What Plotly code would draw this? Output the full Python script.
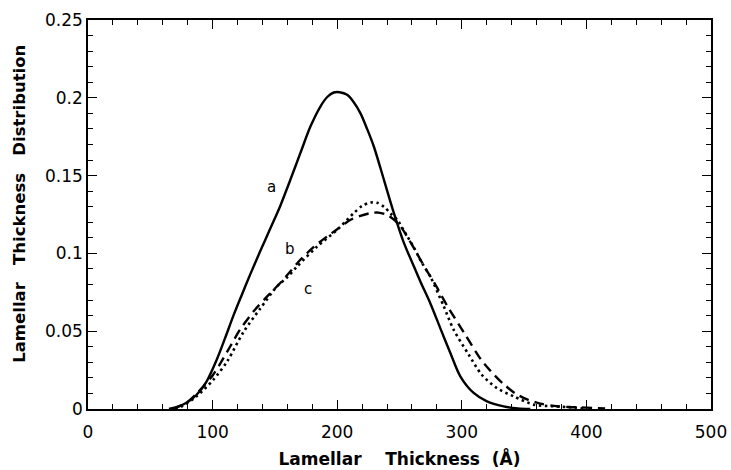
import plotly.graph_objects as go

# ---- data ----
a_x = [65, 72, 79, 87, 95, 103.3, 110, 116.7, 123, 130.2, 138, 146.3, 154.3, 162.4, 170.4, 178.5,
       186.5, 192, 197.2, 202, 208, 213, 218.7, 224, 229.4, 237.5, 245.5, 253.6, 261.6, 267,
       274.7, 282.7, 290.8, 298.8, 309.5, 320.2, 333.6, 345, 355]
a_y = [0.0, 0.0015, 0.004, 0.009, 0.0175, 0.0317, 0.0455, 0.060, 0.0725, 0.0865, 0.101, 0.116,
       0.1305, 0.1473, 0.1644, 0.1815, 0.1944, 0.2005, 0.2034, 0.2036, 0.2019, 0.1975, 0.190,
       0.180, 0.1687, 0.1473, 0.1259, 0.1066, 0.0916, 0.0815, 0.068, 0.052, 0.036, 0.021,
       0.0103, 0.0049, 0.0017, 0.0003, 0.0]

b_x = [68, 79, 86, 92.5, 100, 106, 114, 122, 134, 144, 154.3, 162, 170.4, 181, 191.9, 200, 210.7,
       218, 226.8, 233, 240.2, 245, 250.9, 256, 264, 271, 278, 288.5, 301.8, 315.2, 323, 332.6,
       343, 352.9, 363, 374, 385, 395, 405, 415]
b_y = [0.0, 0.004, 0.009, 0.0145, 0.0215, 0.029, 0.040, 0.051, 0.0638, 0.0725, 0.081, 0.088,
       0.0959, 0.104, 0.1109, 0.1155, 0.1216, 0.124, 0.1259, 0.1262, 0.1248, 0.122, 0.1173,
       0.111, 0.100, 0.090, 0.081, 0.066, 0.049, 0.032, 0.0245, 0.0167, 0.010, 0.006, 0.0035,
       0.002, 0.0013, 0.001, 0.0007, 0.0003]

c_x = [70, 76, 87, 100.6, 112, 124.8, 138.2, 151.6, 159.7, 167.8, 183.9, 200, 213.3, 220, 226.8,
       232, 237.5, 243, 248.2, 254, 261.4, 268, 274.8, 285.5, 293.4, 305.5, 316, 328, 341.6,
       358, 374, 390, 400]
c_y = [0.0, 0.002, 0.0081, 0.0188, 0.031, 0.0495, 0.0645, 0.0787, 0.0845, 0.0916, 0.1044, 0.1152,
       0.1259, 0.1305, 0.1327, 0.1325, 0.130, 0.1255, 0.1216, 0.114, 0.104, 0.094, 0.085, 0.066,
       0.051, 0.035, 0.022, 0.0135, 0.0081, 0.0028, 0.0017, 0.001, 0.0]

labels = ["a", "b", "c"]
label_x = [147.6, 162.4, 176.3]
label_y = [0.1426, 0.1028, 0.077]

x_tickvals = [0, 100, 200, 300, 400, 500]
y_tickvals = [0, 0.05, 0.1, 0.15, 0.2, 0.25]
y_ticktext = ["0", "0.05", "0.1", "0.15", "0.2", "0.25"]

x_title = "Lamellar\u00a0\u00a0\u00a0\u00a0Thickness\u00a0\u00a0(Å)"
y_title = "Lamellar\u00a0\u00a0\u00a0Thickness\u00a0\u00a0\u00a0Distribution"

# ---- figure ----
fig = go.Figure()
fig.add_trace(go.Scatter(x=a_x, y=a_y, mode="lines", name="a",
                         line=dict(color="black", width=2.4, shape="spline", smoothing=0.8)))
fig.add_trace(go.Scatter(x=b_x, y=b_y, mode="lines", name="b",
                         line=dict(color="black", width=2.4, dash="10px,6px", shape="spline", smoothing=0.8)))
fig.add_trace(go.Scatter(x=c_x, y=c_y, mode="lines", name="c",
                         line=dict(color="black", width=2.6, dash="2.5px,3.5px", shape="spline", smoothing=0.8)))

for t, xv, yv in zip(labels, label_x, label_y):
    fig.add_annotation(x=xv, y=yv, text=t, showarrow=False,
                       font=dict(family="DejaVu Sans", size=15, color="black"))

# y-axis title (placed as rotated text to match the reference position)
fig.add_annotation(xref="paper", yref="paper", x=-0.1095, y=0.527, text="<b>" + y_title + "</b>",
                   textangle=-90, showarrow=False, xanchor="center", yanchor="middle",
                   font=dict(family="DejaVu Sans", size=16.5, color="black"))

axis_common = dict(
    showgrid=False, zeroline=False, showline=True, linecolor="black", linewidth=1.5,
    mirror="allticks", ticks="inside", ticklen=9, tickwidth=1.3, tickcolor="black",
    tickfont=dict(family="DejaVu Sans", size=17, color="black"),
)
fig.update_xaxes(
    range=[0, 500], tickvals=x_tickvals, ticktext=[str(v) for v in x_tickvals],
    ticklabelstandoff=7,
    minor=dict(dtick=20, ticklen=5, tickwidth=1.2, tickcolor="black", ticks="inside"),
    title=dict(text="<b>" + x_title + "</b>", standoff=12,
               font=dict(family="DejaVu Sans", size=17, color="black")),
    **axis_common,
)
fig.update_yaxes(
    range=[0, 0.25], tickvals=y_tickvals, ticktext=y_ticktext,
    minor=dict(dtick=0.01, ticklen=5, tickwidth=1.2, tickcolor="black", ticks="inside"),
    **axis_common,
)
fig.update_layout(
    width=731, height=470, autosize=False,
    margin=dict(l=88, r=20, t=20, b=61, autoexpand=False),
    plot_bgcolor="white", paper_bgcolor="white", showlegend=False,
)
fig.write_html("out.html", config={"displayModeBar": False},
               post_script="document.body.style.margin='0px';")
